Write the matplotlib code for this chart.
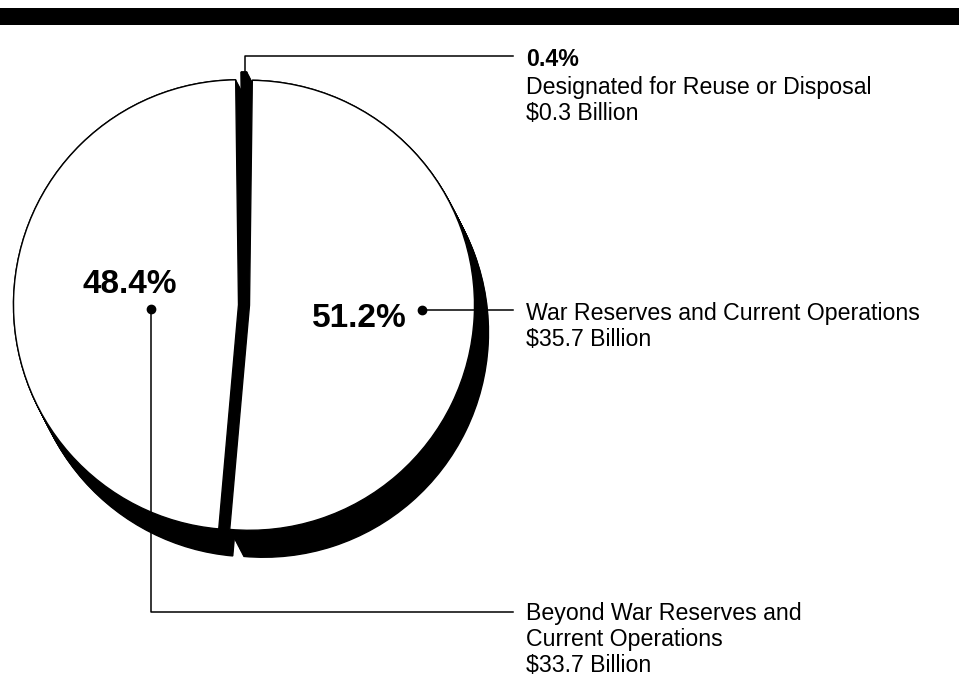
import numpy as np
import matplotlib.pyplot as plt

plt.rcParams['font.family'] = ['Liberation Sans', 'DejaVu Sans']

# data (pie order: clockwise from top)
shares = [0.4, 51.2, 48.4]
amounts = [0.3, 35.7, 33.7]
names = ['Designated for Reuse or Disposal',
         'War Reserves and Current Operations',
         'Beyond War Reserves and\nCurrent Operations']

W, H = 959, 679
def py(y):
    # pixel row -> data y (y axis points up)
    return H - y

fig = plt.figure(figsize=(W / 100, H / 100), dpi=100)
ax = fig.add_axes([0, 0, 1, 1])

cx, cy, r = 244, py(305), 225
explode = [8, 5.5, 5.5]   # explode is in data units (px here)
start = 90 + shares[0] * 3.6 / 2

# black "3d" shadow: sweep of the pie towards lower right
dx, dy = 14, 27
for t in np.linspace(0, 1, 25):
    ax.pie(shares, explode=explode, center=(cx + t * dx, cy - t * dy), radius=r,
           startangle=start, counterclock=False, colors=['black'] * 3,
           wedgeprops=dict(edgecolor='black', linewidth=1.0))

# faces
ax.pie(shares, explode=explode, center=(cx, cy), radius=r,
       startangle=start, counterclock=False, colors=['black', 'white', 'white'],
       wedgeprops=dict(edgecolor='black', linewidth=1.0))

# top bar
ax.axhspan(py(25), py(8), color='black', lw=0)

# percent labels
ax.text(130, py(293), f'{shares[2]}%', fontsize=24, fontweight='bold',
        ha='center', va='baseline')
ax.text(407, py(327), f'{shares[1]}%', fontsize=24, fontweight='bold',
        ha='right', va='baseline')

# leader lines and dots
lc = dict(color='black', lw=1.1)
ax.plot([245, 245, 513], [py(72), py(56), py(56)], **lc)
ax.plot([422, 513], [py(310), py(310)], **lc)
ax.plot([151, 151, 513], [py(309), py(612), py(612)], **lc)
ax.plot([422, 151], [py(310), py(309)], 'o', color='black', ms=6)

# side labels
fs = 16.7
tx = 526
ax.text(tx, py(66), f'{shares[0]}%', fontsize=fs, fontweight='bold', va='baseline')
top_lines = [names[0], f'${amounts[0]} Billion']
for i, s in enumerate(top_lines):
    ax.text(tx, py(94 + 26 * i), s, fontsize=fs, va='baseline')

mid_lines = [names[1], f'${amounts[1]} Billion']
for i, s in enumerate(mid_lines):
    ax.text(tx, py(320 + 26 * i), s, fontsize=fs, va='baseline')

bot_lines = names[2].split('\n') + [f'${amounts[2]} Billion']
for i, s in enumerate(bot_lines):
    ax.text(tx, py(620 + 26 * i), s, fontsize=fs, va='baseline')

ax.set_xlim(0, W)
ax.set_ylim(0, H)
ax.set_aspect('equal')
ax.axis('off')

fig.savefig('out.png', dpi=100)
